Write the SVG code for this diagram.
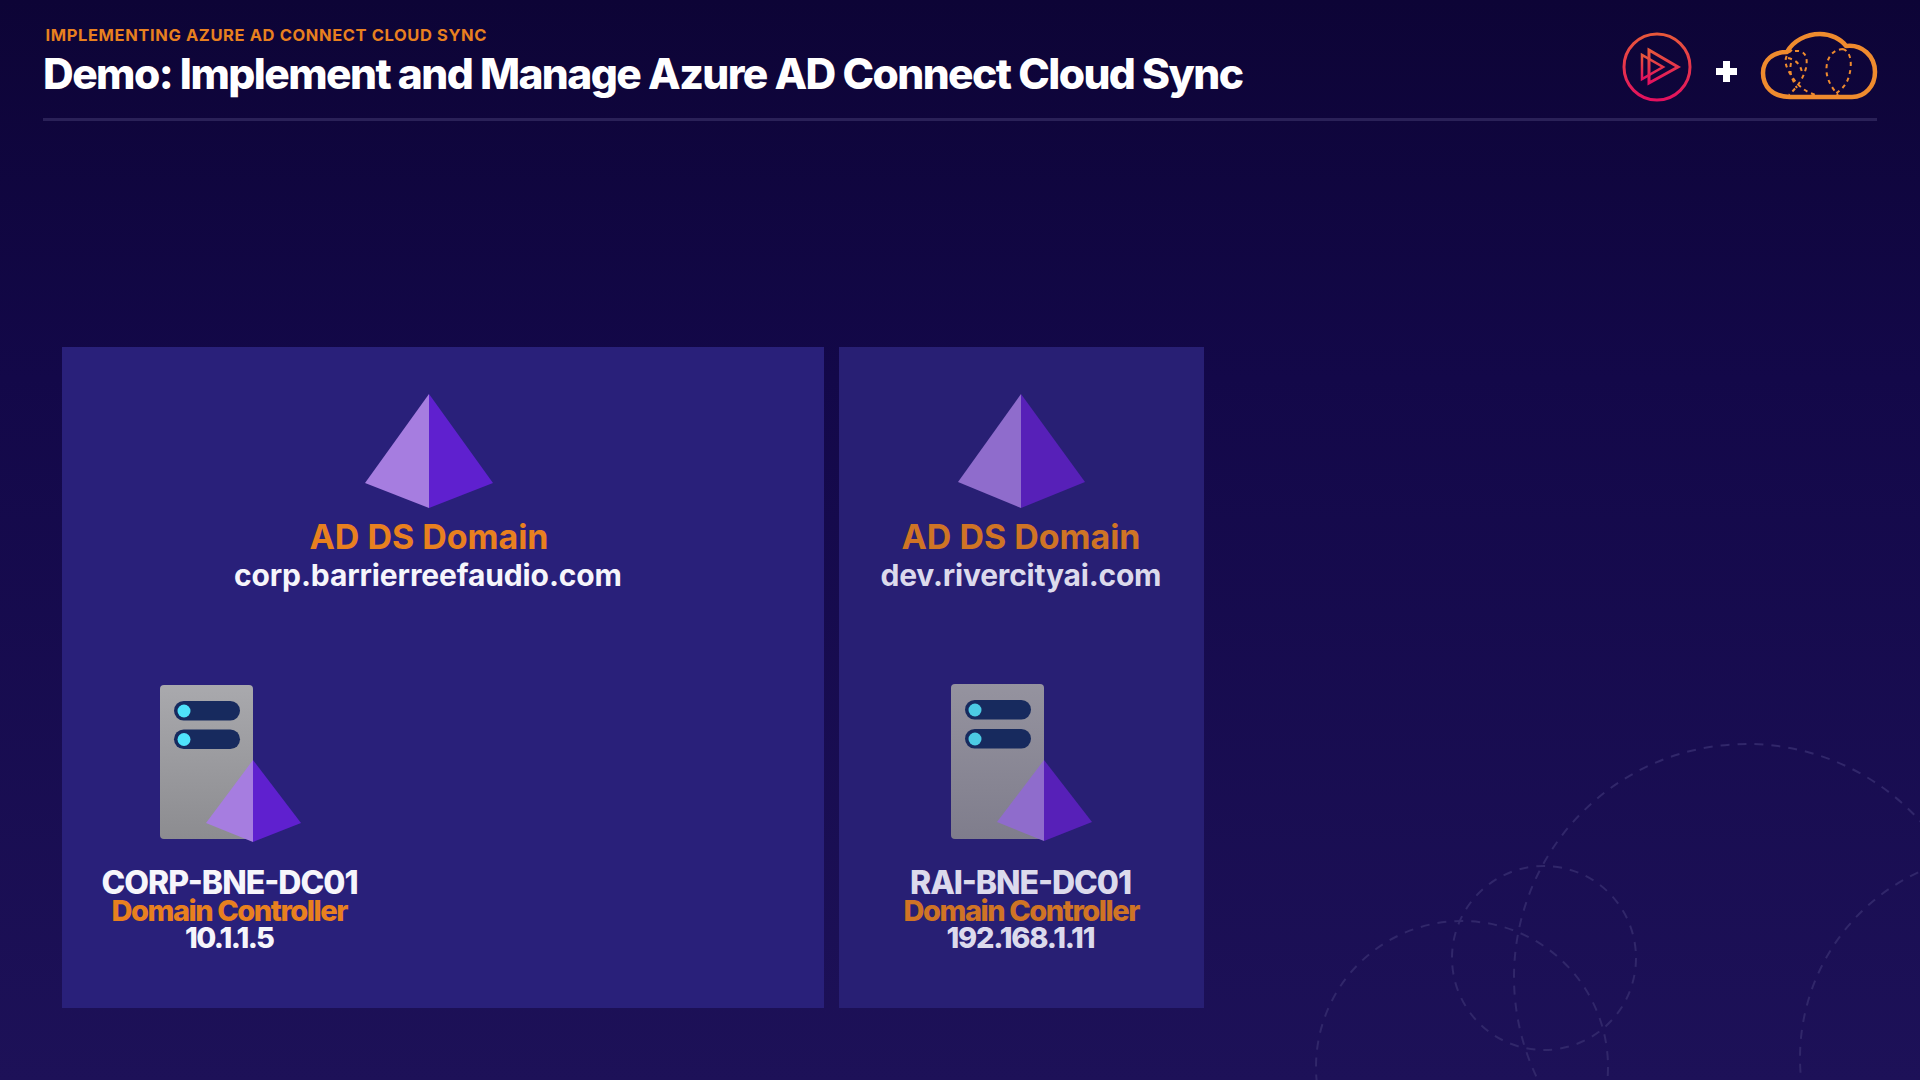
<svg xmlns="http://www.w3.org/2000/svg" width="1920" height="1080" viewBox="0 0 1920 1080">
<defs>
<linearGradient id="bg" x1="0" y1="0" x2="0" y2="1"><stop offset="0" stop-color="#0d0436"/><stop offset="0.35" stop-color="#130849"/><stop offset="1" stop-color="#1d1158"/></linearGradient>
<linearGradient id="play" x1="0" y1="0" x2="0" y2="1"><stop offset="0" stop-color="#e8583a"/><stop offset="1" stop-color="#e3105f"/></linearGradient>
<linearGradient id="srv" x1="0" y1="0" x2="0" y2="1"><stop offset="0" stop-color="#a9a9ad"/><stop offset="1" stop-color="#8c8c90"/></linearGradient>
<linearGradient id="srv2" x1="0" y1="0" x2="0" y2="1"><stop offset="0" stop-color="#95939f"/><stop offset="1" stop-color="#7f7d8c"/></linearGradient>
</defs>
<style>
text{font-family:Inter,"Liberation Sans",sans-serif;text-anchor:middle}
.bgc{fill:none;stroke:#31276a;stroke-width:2;stroke-dasharray:9 8}
.h1{font-size:42.500px;font-weight:800;fill:#fff}
.h2{font-size:16.500px;font-weight:700;fill:#e8801f}
.dom{font-size:34px;font-weight:700}
.sub{font-size:30px;font-weight:700}
.nm{font-size:32px;font-weight:800}
.role{font-size:29px;font-weight:800}
.ip{font-size:29px;font-weight:800}
.or1{fill:#e8801f}.wh1{fill:#f6f5fb}
.or2{fill:#cf7425}.wh2{fill:#dcdaec}
.dash{fill:none;stroke:#ef8b2e;stroke-width:2;stroke-dasharray:4 4}
</style>
<rect width="1920" height="1080" fill="url(#bg)"/>
<g id="background-circles">
<circle class="bgc" cx="1544" cy="958" r="92"/>
<circle class="bgc" cx="1462" cy="1067" r="146"/>
<circle class="bgc" cx="1747" cy="977" r="233"/>
<circle class="bgc" cx="2005" cy="1058" r="205"/>
</g>
<g id="header">
<text class="h2" x="266" y="41" textLength="441">IMPLEMENTING AZURE AD CONNECT CLOUD SYNC</text>
<text class="h1" x="643.500" y="89" textLength="1201">Demo: Implement and Manage Azure AD Connect Cloud Sync</text>
<rect x="43" y="118" width="1834" height="3" fill="#2a2158"/>
</g>
<g id="logo-play" fill="none" stroke="url(#play)" stroke-width="3">
<circle cx="1657" cy="67" r="33"/>
<path d="M1649 50L1678 67L1649 83Z"/>
<path d="M1642 55V79L1663 67Z" stroke-width="2.500"/>
</g>
<g id="plus"><path d="M1723 62h7v7h7v7h-7v7h-7v-7h-7v-7h7z" fill="#fff" transform="translate(0,-1)"/></g>
<g id="logo-cloud">
<path d="M1790 97C1772 97 1763 86 1763 73C1763 60 1773 52 1787 52C1793 41 1806 34 1820 34C1831 34 1841 39 1846 46C1862 44 1875 56 1875 72C1875 86 1865 97 1852 97Z" fill="none" stroke="#ef8b2e" stroke-width="4.500" stroke-linejoin="round"/>
<path class="dash" d="M1792 50C1781 58 1786 68 1793 78C1799 87 1806 92 1816 95M1795 51C1806 50 1808 58 1806 68C1803 80 1796 88 1789 95M1788 58C1796 60 1800 64 1802 72M1791 63C1789 72 1792 80 1797 88"/>
<path class="dash" d="M1843 49C1828 50 1825 65 1827 75C1829 84 1834 90 1838 95M1843 49C1852 52 1852 66 1849 76C1847 84 1842 90 1833 95"/>
</g>
<g id="domain-corp">
<rect x="62" y="347" width="762" height="661" fill="#29207a"/>
<path d="M429 394L365 483L429 508Z" fill="#a67de0"/>
<path d="M429 394L493 483L429 508Z" fill="#5f20cf"/>
<text class="dom or1" x="429" y="548.500" textLength="239">AD DS Domain</text>
<text class="sub wh1" x="428" y="585.500" textLength="388">corp.barrierreefaudio.com</text>
</g>
<g id="domain-rai">
<rect x="839" y="347" width="365" height="661" fill="#281f74"/>
<path d="M1021 394L958 482L1021 508Z" fill="#8f6ccc"/>
<path d="M1021 394L1085 482L1021 508Z" fill="#5720b8"/>
<text class="dom or2" x="1021" y="548.500" textLength="239">AD DS Domain</text>
<text class="sub wh2" x="1021" y="585.500" textLength="281">dev.rivercityai.com</text>
</g>
<g id="dc-corp">
<rect x="160" y="685" width="93" height="154" rx="4" fill="url(#srv)"/>
<rect x="174" y="701" width="66" height="19.500" rx="9.700" fill="#172a5e"/>
<rect x="174" y="729.500" width="66" height="19.500" rx="9.700" fill="#172a5e"/>
<circle cx="184" cy="711" r="6.500" fill="#4fe3fb"/><circle cx="184" cy="739.500" r="6.500" fill="#4fe3fb"/>
<path d="M253 760L206 823L253 842Z" fill="#a67de0"/>
<path d="M253 760L301 823L253 842Z" fill="#5f20cf"/>
<text class="nm wh1" x="230" y="894" textLength="257">CORP-BNE-DC01</text>
<text class="role or1" x="230" y="921" textLength="237">Domain Controller</text>
<text class="ip wh1" x="230" y="948" textLength="90">10.1.1.5</text>
</g>
<g id="dc-rai">
<rect x="951" y="684" width="93" height="155" rx="4" fill="url(#srv2)"/>
<rect x="965" y="700" width="66" height="19.500" rx="9.700" fill="#172a5e"/>
<rect x="965" y="729" width="66" height="19.500" rx="9.700" fill="#172a5e"/>
<circle cx="975" cy="710" r="6.500" fill="#4ccbe4"/><circle cx="975" cy="739" r="6.500" fill="#4ccbe4"/>
<path d="M1044 760L997 822L1044 841Z" fill="#8f6ccc"/>
<path d="M1044 760L1092 822L1044 841Z" fill="#5720b8"/>
<text class="nm wh2" x="1021" y="894" textLength="222">RAI-BNE-DC01</text>
<text class="role or2" x="1022" y="921" textLength="237">Domain Controller</text>
<text class="ip wh2" x="1021" y="948" textLength="149">192.168.1.11</text>
</g>
</svg>
